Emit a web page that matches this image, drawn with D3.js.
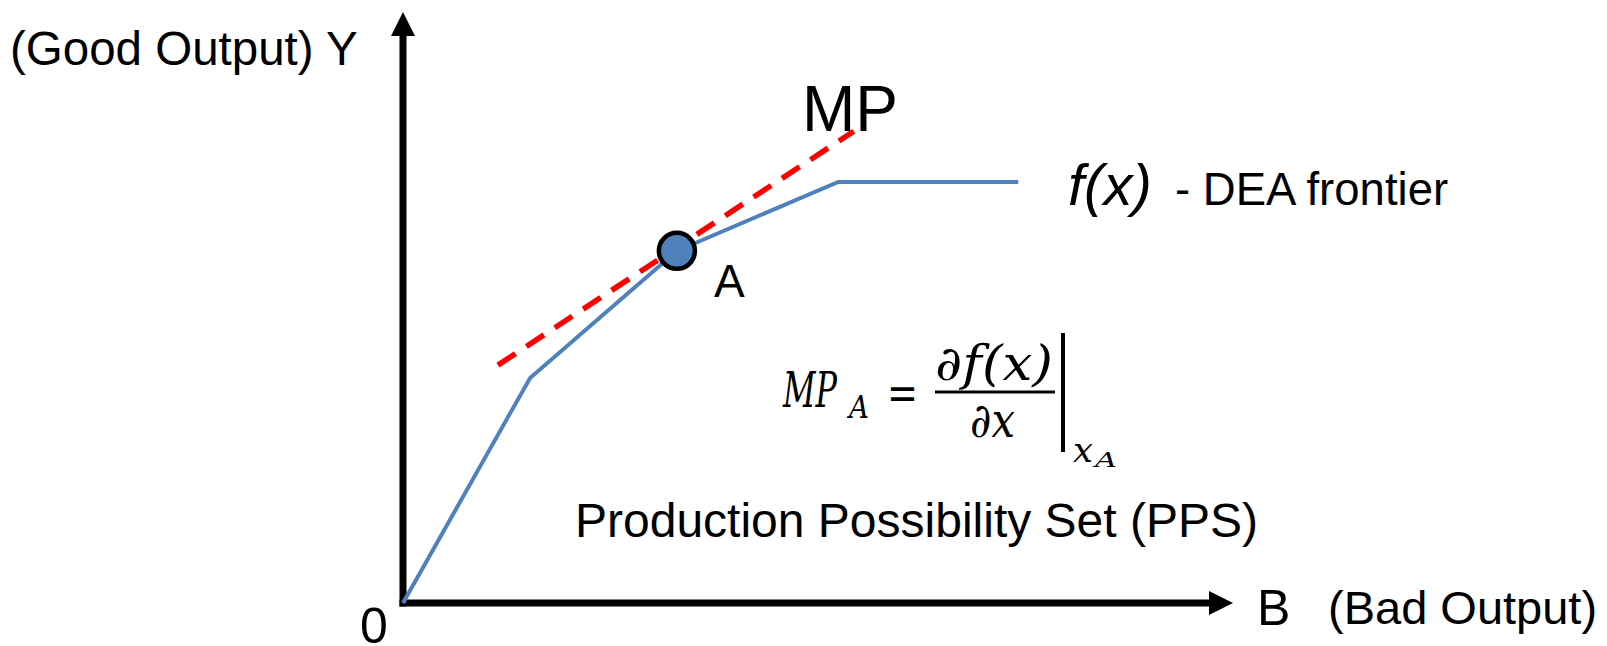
<!DOCTYPE html>
<html>
    <head>
        <meta charset="utf-8">
        <script src="https://cdn.jsdelivr.net/npm/d3@7"></script>
        <style>
            body { margin: 0; background: white; }
        </style>
        <script>
            // frontier vertices (B, Y) in chart units
            const frontierX = [0, 2.45, 5.28, 8.39, 11.86];
            const frontierY = [0, 4.57, 7.15, 8.55, 8.55];

            // tangent (MP) at A
            const tangentX = [1.83, 8.69];
            const tangentY = [4.83, 9.58];

            // point A
            const pointA = [5.28, 7.15];

            const xDomain = [0, 16];
            const yDomain = [0, 12];

            function makeSVG() {

                const blue = "#4F81BD";
                const sans = "'Liberation Sans', Arial, sans-serif";
                const serif = "'DejaVu Serif', serif";

                var svg = d3.select("#fig");

                var x = d3.scaleLinear().domain(xDomain).range([403, 1233]);
                var y = d3.scaleLinear().domain(yDomain).range([603, 12]);

                // Axes with arrow heads

                const head = 24, half = 12, axisW = 7;

                svg.append("line")
                   .attr("x1", x(0)).attr("y1", y(0) + axisW / 2)
                   .attr("x2", x(0)).attr("y2", y(yDomain[1]) + head)
                   .attr("stroke", "black").attr("stroke-width", axisW);

                svg.append("line")
                   .attr("x1", x(0) - axisW / 2).attr("y1", y(0))
                   .attr("x2", x(xDomain[1]) - head).attr("y2", y(0))
                   .attr("stroke", "black").attr("stroke-width", axisW);

                svg.append("path")
                   .attr("d", "M" + x(0) + "," + y(yDomain[1]) +
                              "L" + (x(0) - half) + "," + (y(yDomain[1]) + head) +
                              "L" + (x(0) + half) + "," + (y(yDomain[1]) + head) + "Z")
                   .attr("fill", "black");

                svg.append("path")
                   .attr("d", "M" + x(xDomain[1]) + "," + y(0) +
                              "L" + (x(xDomain[1]) - head) + "," + (y(0) - half) +
                              "L" + (x(xDomain[1]) - head) + "," + (y(0) + half) + "Z")
                   .attr("fill", "black");

                // DEA frontier

                var line = d3.line().x(d => x(d[0])).y(d => y(d[1]));

                svg.append("path")
                   .datum(d3.zip(frontierX, frontierY))
                   .attr("d", line)
                   .attr("fill", "none")
                   .attr("stroke", blue)
                   .attr("stroke-width", 4);

                // Tangent MP

                svg.append("path")
                   .datum(d3.zip(tangentX, tangentY))
                   .attr("d", line)
                   .attr("fill", "none")
                   .attr("stroke", "#FF0000")
                   .attr("stroke-width", 5.5)
                   .attr("stroke-dasharray", "21,13");

                // Point A

                svg.append("circle")
                   .attr("cx", x(pointA[0]))
                   .attr("cy", y(pointA[1]))
                   .attr("r", 18)
                   .attr("fill", blue)
                   .attr("stroke", "black")
                   .attr("stroke-width", 4.5);

                // Labels

                function label(tx, ty, str, size, opts) {
                    opts = opts || {};
                    var t = svg.append("text")
                               .attr("x", tx).attr("y", ty)
                               .attr("font-family", opts.family || sans)
                               .attr("font-size", size + "px")
                               .attr("font-style", opts.italic ? "italic" : "normal")
                               .attr("fill", "black")
                               .text(str);
                    if (opts.len) t.attr("textLength", opts.len).attr("lengthAdjust", "spacingAndGlyphs");
                    return t;
                }

                label(10, 65, "(Good Output) Y", 47.5);
                label(360, 643, "0", 50);
                label(1257, 625, "B", 50);
                label(1328, 624, "(Bad Output)", 47);
                label(802, 131, "MP", 64);
                label(x(pointA[0]) + 37, y(pointA[1]) + 46, "A", 46);
                label(1068, 205, "f(x)", 58, {italic: true});
                label(1175, 205, "- DEA frontier", 45.5);
                label(575, 537, "Production Possibility Set (PPS)", 48);

                // Formula MP_A = df(x)/dx | x_A

                label(783, 407, "MP", 48, {family: serif, italic: true, len: 54});
                label(849, 418, "A", 32, {family: serif, italic: true, len: 20});
                label(887, 410, "=", 48, {family: serif, len: 31});
                label(935, 380, "\u2202f(x)", 48, {family: serif, italic: true, len: 118});
                label(970, 437, "\u2202x", 48, {family: serif, italic: true, len: 45});
                label(1073, 462, "x", 36, {family: serif, italic: true, len: 20});
                label(1095, 467, "A", 21, {family: serif, italic: true, len: 22});

                svg.append("line")
                   .attr("x1", 935).attr("x2", 1055)
                   .attr("y1", 392).attr("y2", 392)
                   .attr("stroke", "black").attr("stroke-width", 3);

                svg.append("line")
                   .attr("x1", 1063).attr("x2", 1063)
                   .attr("y1", 333).attr("y2", 452)
                   .attr("stroke", "black").attr("stroke-width", 4);
            }
        </script>
    </head>
    <body onload="makeSVG()">
        <svg id="fig" width="1607" height="646"></svg>
    </body>
</html>
